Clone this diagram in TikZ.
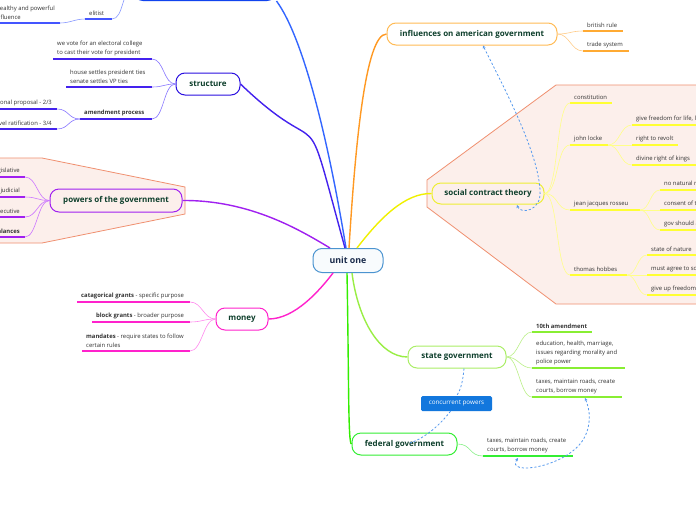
\documentclass[tikz,border=0pt]{standalone}
\usepackage{fontspec}
\setmainfont{Open Sans}
\usetikzlibrary{backgrounds,arrows.meta}
\definecolor{nodegreen}{HTML}{0E3F2C}
\definecolor{leafgray}{HTML}{333333}
\definecolor{uoblue}{HTML}{4B94D0}
\definecolor{uofill}{HTML}{F8FBFD}
\definecolor{uotext}{HTML}{1A2B4B}
\definecolor{topblue}{HTML}{1144EE}
\definecolor{blueedge}{HTML}{3366FF}
\definecolor{blueul}{HTML}{4455FF}
\definecolor{bluetw}{HTML}{8899FF}
\definecolor{strb}{HTML}{2A0FE0}
\definecolor{stre}{HTML}{4422EE}
\definecolor{strtw}{HTML}{8877FF}
\definecolor{powb}{HTML}{A020F0}
\definecolor{powtw}{HTML}{CC77FF}
\definecolor{monb}{HTML}{FF22CC}
\definecolor{montw}{HTML}{FF88EE}
\definecolor{infb}{HTML}{FFBB55}
\definecolor{infe}{HTML}{FF9922}
\definecolor{infu}{HTML}{FFAA33}
\definecolor{inftw}{HTML}{FFCC88}
\definecolor{socb}{HTML}{EEEE33}
\definecolor{soce}{HTML}{F0F000}
\definecolor{socu}{HTML}{FFFF33}
\definecolor{soctw}{HTML}{FFFF88}
\definecolor{stab}{HTML}{AAEE66}
\definecolor{stae}{HTML}{99EE44}
\definecolor{stau}{HTML}{88EE33}
\definecolor{statw}{HTML}{BBF088}
\definecolor{fedb}{HTML}{33EE33}
\definecolor{fede}{HTML}{33EE00}
\definecolor{fedtw}{HTML}{88F088}
\definecolor{bnddraw}{HTML}{F09070}
\definecolor{bndfill}{HTML}{FCEFEB}
\definecolor{relblue}{HTML}{5599EE}
\definecolor{conc}{HTML}{1277DD}
\tikzset{
 mnode/.style={draw, rounded corners=9pt, line width=1pt, fill=white, text=nodegreen,
   font=\fontsize{8}{9.5}\selectfont\bfseries, inner sep=0pt},
 leaftext/.style={inner sep=0pt, align=left, text=leafgray, font=\fontsize{5.9}{8.8}\selectfont},
 underl/.style={line width=1.6pt},
 trunk/.style={line width=1.4pt},
 twig/.style={line width=0.6pt},
 rel/.style={draw=relblue, line width=0.8pt, dash pattern=on 2.2pt off 2pt},
 bound/.style={draw=bnddraw, fill=bndfill, line width=0.8pt},
}
\newcommand\leafL[6]{%
 \coordinate (#1-l) at (#2,#4);
 \coordinate (#1-r) at (#3,#4);
 \draw[underl,draw=#5] (#1-l) -- (#1-r);
 \node[leaftext,anchor=south west] (#1) at ([xshift=4pt,yshift=3pt]#1-l) {#6};}
\newcommand\leafR[6]{%
 \coordinate (#1-l) at (#2,#4);
 \coordinate (#1-r) at (#3,#4);
 \draw[underl,draw=#5] (#1-l) -- (#1-r);
 \node[leaftext,anchor=south east] (#1) at ([xshift=-5pt,yshift=3pt]#1-r) {#6};}
\begin{document}
\begin{tikzpicture}[x=1pt,y=-1pt]
\useasboundingbox[fill=white] (0,0) rectangle (696,520);
% boundaries
\draw[bound] (-20,158) -- (42,158) -- (185,187) -- (185,214) -- (42,243) -- (-20,243) -- cycle;
\draw[bound] (720,85) -- (556,85) -- (427,180) -- (427,207) -- (556,304) -- (720,304) -- cycle;

% main nodes
\node[mnode, draw=uoblue, fill=uofill, text=uotext, font=\fontsize{8.8}{10}\selectfont\bfseries,
  minimum width=70pt, minimum height=24pt] (uo) at (348,260.5) {unit one};
\node[mnode, draw=topblue, minimum width=142pt, minimum height=24pt] (top) at (205,-11.5) {};
\node[mnode, draw=strb, minimum width=64pt, minimum height=22pt] (structure) at (208,84) {structure};
\node[mnode, draw=powb, fill=none, minimum width=132pt, minimum height=23pt] (powers) at (116,200.5) {powers of the government};
\node[mnode, draw=monb, minimum width=52pt, minimum height=22pt] (money) at (242,319) {money};
\node[mnode, draw=infb, minimum width=170pt, minimum height=22pt] (infl) at (472,34) {influences on american government};
\node[mnode, draw=socb, fill=none, minimum width=112pt, minimum height=21pt] (social) at (488,193.5) {social contract theory};
\node[mnode, draw=stab, minimum width=98pt, minimum height=22pt] (state) at (457,357) {state government};
\node[mnode, draw=fedb, minimum width=105pt, minimum height=22pt] (federal) at (404.5,444) {federal government};

% trunk edges
\draw[trunk,draw=blueedge] ([xshift=-2pt]uo.north) .. controls (330,150) and (305,40) .. (top.south east);
\draw[trunk,draw=stre] ([xshift=-3pt]uo.north) .. controls (300,84) and (330,170) .. (structure.east);
\draw[trunk,draw=powb] ([xshift=-18pt]uo.north) .. controls (300,230) and (250,200) .. (powers.east);
\draw[trunk,draw=monb] ([xshift=-15pt]uo.south) .. controls (320,290) and (295,319) .. (money.east);
\draw[trunk,draw=infe] ([xshift=1pt]uo.north) .. controls (355,150) and (365,34) .. (infl.west);
\draw[trunk,draw=soce] ([xshift=9pt]uo.north) .. controls (380,218) and (405,193) .. (social.west);
\draw[trunk,draw=stae] ([xshift=4pt]uo.south) .. controls (358,320) and (380,357) .. (state.west);
\draw[trunk,draw=fede] ([xshift=-1pt]uo.south) .. controls (349,380) and (348,444) .. (federal.west);

% top (blue) children
\leafL{el}{85}{112}{19}{blueul}{elitist}
\leafR{we}{-10}{60}{23}{blueul}{wealthy and powerful\\influence}
\draw[twig,draw=bluetw] (top.west) .. controls +(-12,0) and +(12,0) .. (el-r);
\draw[twig,draw=bluetw] (el-l) .. controls +(-10,0) and +(10,0) .. (we-r);

% structure children
\leafL{s1}{53}{152}{59}{stre}{we vote for an electoral college\\to cast their vote for president}
\leafL{s2}{66}{152}{87}{stre}{house settles president ties\\senate settles VP ties}
\leafL{s3}{80}{152}{119}{stre}{\textbf{amendment process}}
\leafR{a1}{-10}{57}{109}{stre}{national proposal - 2/3}
\leafR{a2}{-10}{57}{129}{stre}{state level ratification - 3/4}
\foreach \c in {s1,s2,s3}
  \draw[twig,draw=strtw] (structure.west) .. controls +(-12,0) and +(12,0) .. (\c-r);
\foreach \c in {a1,a2}
  \draw[twig,draw=strtw] (s3-l) .. controls +(-12,0) and +(12,0) .. (\c-r);

% powers children
\leafR{p1}{-10}{25}{177}{powb}{legislative}
\leafR{p2}{-10}{25}{197}{powb}{judicial}
\leafR{p3}{-10}{25}{217}{powb}{executive}
\leafR{p4}{-10}{25}{237}{powb}{\textbf{checks and balances}}
\foreach \c in {p1,p2,p3,p4}
  \draw[twig,draw=powtw] (powers.west) .. controls +(-12,0) and +(12,0) .. (\c-r);

% money children
\leafL{m1}{77}{190}{302}{monb}{\textbf{catagorical grants} - specific purpose}
\leafL{m2}{92}{190}{322}{monb}{\textbf{block grants} - broader purpose}
\leafL{m3}{82}{190}{351}{monb}{\textbf{mandates} - require states to follow\\certain rules}
\foreach \c in {m1,m2,m3}
  \draw[twig,draw=montw] (money.west) .. controls +(-12,0) and +(12,0) .. (\c-r);

% influences children
\leafL{i1}{583}{623}{31}{infu}{british rule}
\leafL{i2}{583}{629}{51}{infu}{trade system}
\foreach \c in {i1,i2}
  \draw[twig,draw=inftw] (infl.east) .. controls +(12,0) and +(-12,0) .. (\c-l);

% social contract children
\leafL{c1}{570}{612}{103}{socu}{constitution}
\leafL{c2}{570}{608}{145}{socu}{john locke}
\leafL{c3}{570}{640}{210}{socu}{jean jacques rosseu}
\leafL{c4}{570}{627}{275}{socu}{thomas hobbes}
\foreach \c in {c1,c2,c3,c4}
  \draw[twig,draw=soctw] (social.east) .. controls +(14,0) and +(-14,0) .. (\c-l);
\leafL{l1}{632}{720}{125}{socu}{give freedom for life, liberty, property}
\leafL{l2}{632}{678}{145}{socu}{right to revolt}
\leafL{l3}{632}{720}{165}{socu}{divine right of kings}
\foreach \c in {l1,l2,l3}
  \draw[twig,draw=soctw] (c2-r) .. controls +(12,0) and +(-12,0) .. (\c-l);
\leafL{r1}{660}{720}{190}{socu}{no natural rights}
\leafL{r2}{660}{720}{210}{socu}{consent of the governed}
\leafL{r3}{660}{720}{230}{socu}{gov should abide by general will}
\foreach \c in {r1,r2,r3}
  \draw[twig,draw=soctw] (c3-r) .. controls +(10,0) and +(-10,0) .. (\c-l);
\leafL{h1}{647}{720}{255}{socu}{state of nature}
\leafL{h2}{647}{720}{275}{socu}{must agree to social contract}
\leafL{h3}{647}{720}{295}{socu}{give up freedoms for protection}
\foreach \c in {h1,h2,h3}
  \draw[twig,draw=soctw] (c4-r) .. controls +(10,0) and +(-10,0) .. (\c-l);

% state children
\leafL{t1}{532}{592}{332}{stau}{\textbf{10th amendment}}
\leafL{t2}{532}{625}{368}{stau}{education, health, marriage,\\issues regarding morality and\\police power}
\leafL{t3}{532}{622}{397}{stau}{taxes, maintain roads, create\\courts, borrow money}
\foreach \c in {t1,t2,t3}
  \draw[twig,draw=statw] (state.east) .. controls +(12,0) and +(-12,0) .. (\c-l);

% federal child
\leafL{f1}{483}{573}{456}{fedb}{taxes, maintain roads, create\\courts, borrow money}
\draw[twig,draw=fedtw] (federal.east) .. controls +(14,0) and +(-14,0) .. (f1-l);

% concurrent powers relation
\node[fill=conc, text=white, rounded corners=1.5pt, font=\fontsize{6.3}{7}\selectfont,
  minimum width=71pt, minimum height=15pt, inner sep=0pt] (conc) at (456.5,403.5) {concurrent powers};
\draw[rel] ([xshift=7pt]state.south) .. controls (463,380) and (461,390) .. (conc.north);
\draw[rel] ([xshift=-6pt]conc.south) .. controls (440,425) and (425,438) .. (410,443);

% relations with arrows
\coordinate (ds1) at (517,205);
\draw[rel, {Stealth[length=3pt,width=3pt]}-{Stealth[length=3pt,width=3pt]}] (ds1) .. controls (520,214) and (542,212) .. (540,190)
  .. controls (538,150) and (500,80) .. ([xshift=11pt]infl.south);
\coordinate (dt1) at (518,458);
\coordinate (dt2) at (585,398);
\draw[rel, {Stealth[length=3pt,width=3pt]}-{Stealth[length=3pt,width=3pt]}] (dt1) .. controls (505,476) and (565,468) .. (583,440)
  .. controls (592,425) and (590,410) .. (dt2);
\end{tikzpicture}
\end{document}
